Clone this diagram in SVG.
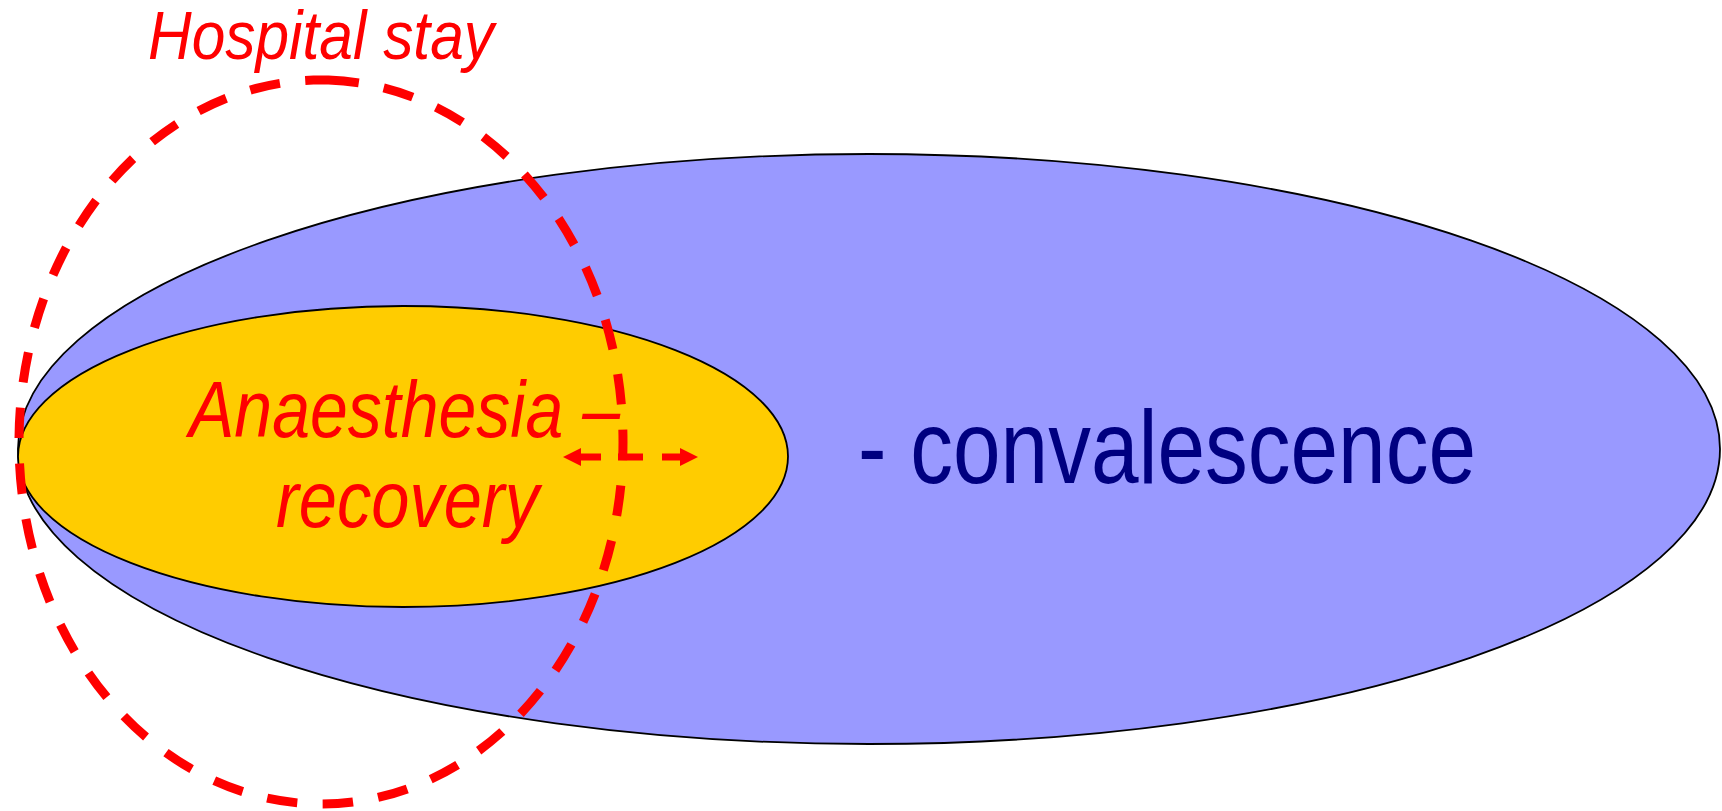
<svg xmlns="http://www.w3.org/2000/svg" width="1722" height="811" viewBox="0 0 1722 811">
<style>
.outline{stroke:#000;stroke-width:1.8}
.red-it{font-family:"Liberation Sans",Arial,sans-serif;font-style:italic;fill:#FF0000}
.navy{font-family:"Liberation Sans",Arial,sans-serif;fill:#000080}
</style>
<defs>
<marker id="ah" markerUnits="userSpaceOnUse" markerWidth="18" markerHeight="18" refX="0" refY="9" orient="auto-start-reverse" viewBox="0 0 18 18">
<path d="M0,0 L18,9 L0,18 z" fill="#FF0000"/>
</marker>
</defs>
<rect width="1722" height="811" fill="#FFFFFF"/>
<g id="convalescence">
<ellipse cx="869" cy="449" rx="851" ry="295" fill="#9999FF" class="outline"/>
<text class="navy" x="858" y="483" font-size="104" textLength="618" lengthAdjust="spacingAndGlyphs">- convalescence</text>
</g>
<g id="anaesthesia-recovery">
<ellipse cx="403" cy="456.5" rx="385" ry="150.5" fill="#FFCC00" class="outline"/>
<text class="red-it" x="189" y="437" font-size="80" textLength="431" lengthAdjust="spacingAndGlyphs">Anaesthesia –</text>
<text class="red-it" x="276" y="527" font-size="80" textLength="263" lengthAdjust="spacingAndGlyphs">recovery</text>
</g>
<g id="hospital-stay">
<path d="M328.5 80.11 A302 362 0 1 1 313.5 80.11 A302 362 0 0 1 328.5 80.11" fill="none" stroke="#FF0000" stroke-width="9" pathLength="2058" stroke-dasharray="30 25"/>
<text class="red-it" x="148" y="59" font-size="68" textLength="346" lengthAdjust="spacingAndGlyphs">Hospital stay</text>
</g>
<g id="connectors">
<line x1="581" y1="457" x2="680" y2="457" stroke="#FF0000" stroke-width="7" stroke-dasharray="20 17 25 19 20" marker-start="url(#ah)" marker-end="url(#ah)"/>
</g>
</svg>
